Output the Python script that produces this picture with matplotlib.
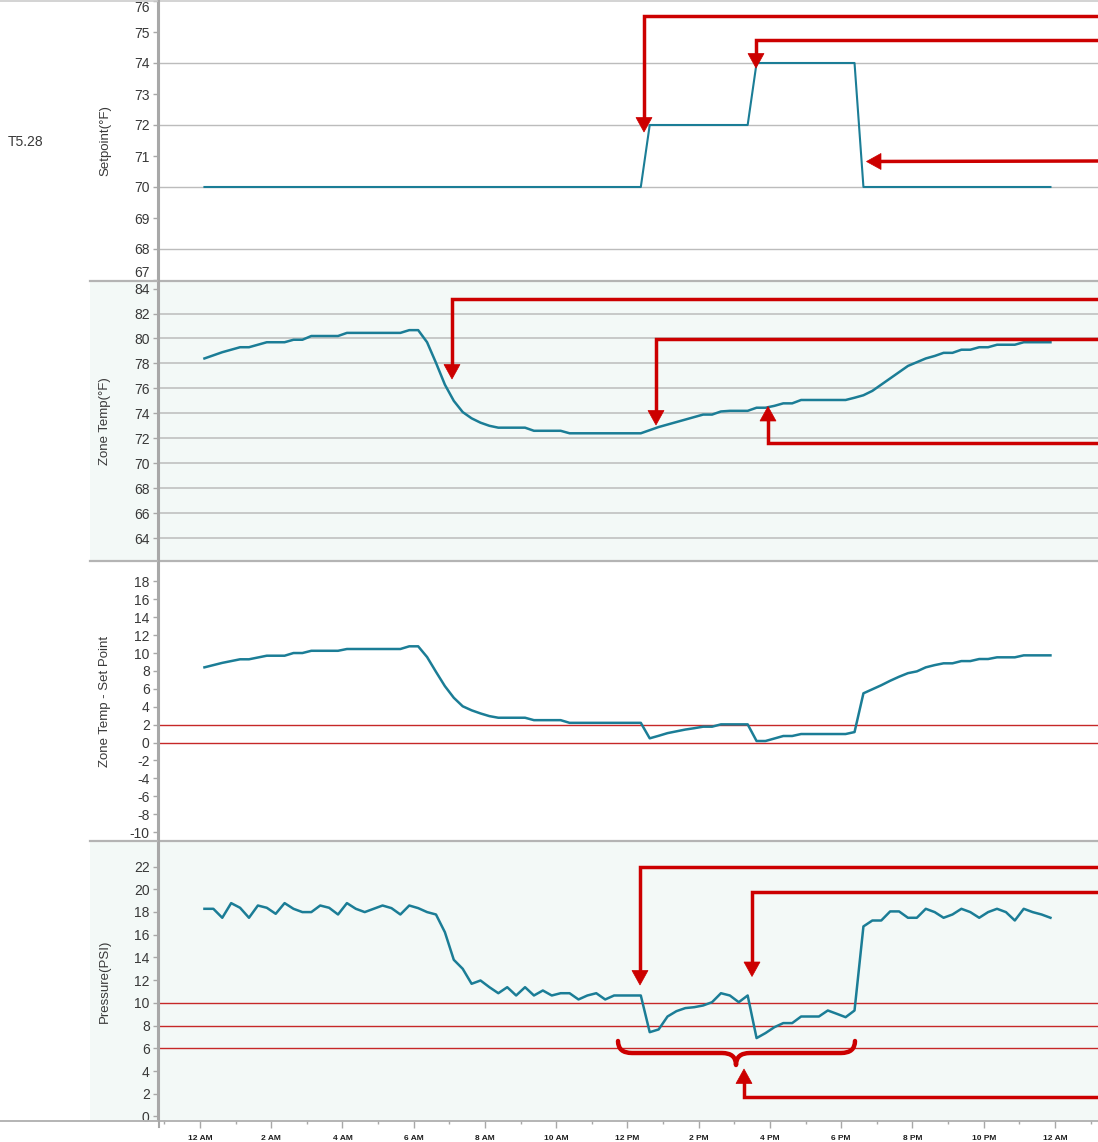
import numpy as np
import matplotlib
matplotlib.use("Agg")
import matplotlib.pyplot as plt
from matplotlib import font_manager
from matplotlib.patches import Rectangle, Polygon, PathPatch
from matplotlib.path import Path
from matplotlib.lines import Line2D

# ---- data (15 minute log of one zone) ----
n_samples = 96
hours = 0.125 + 0.25 * np.arange(n_samples)

setpoint = [70] * 50 + [72] * 12 + [74] * 12 + [70] * 22

zone_temp = [
    78.4, 78.65, 78.9, 79.1, 79.3, 79.3, 79.5, 79.7, 79.7, 79.7, 79.9, 79.9,
    80.2, 80.2, 80.2, 80.2, 80.45, 80.45, 80.45, 80.45, 80.45, 80.45, 80.45, 80.67,
    80.67, 79.7, 78.05, 76.3, 75.0, 74.1, 73.6, 73.25, 73.0, 72.85, 72.85, 72.85,
    72.85, 72.6, 72.6, 72.6, 72.6, 72.4, 72.4, 72.4, 72.4, 72.4, 72.4, 72.4,
    72.4, 72.4, 72.65, 72.9, 73.1, 73.3, 73.5, 73.7, 73.9, 73.9, 74.15, 74.2,
    74.2, 74.2, 74.45, 74.45, 74.6, 74.8, 74.8, 75.07, 75.07, 75.07, 75.07, 75.07,
    75.07, 75.25, 75.45, 75.8, 76.3, 76.8, 77.3, 77.8, 78.1, 78.4, 78.6, 78.85,
    78.85, 79.1, 79.1, 79.3, 79.3, 79.5, 79.5, 79.5, 79.7, 79.7, 79.7, 79.7,
]

temp_minus_sp = [
    8.4, 8.65, 8.9, 9.1, 9.3, 9.3, 9.5, 9.7, 9.7, 9.7, 10.0, 10.0,
    10.25, 10.25, 10.25, 10.25, 10.45, 10.45, 10.45, 10.45, 10.45, 10.45, 10.45, 10.75,
    10.75, 9.55, 7.9, 6.3, 5.0, 4.05, 3.6, 3.25, 2.95, 2.77, 2.77, 2.77,
    2.77, 2.5, 2.5, 2.5, 2.5, 2.2, 2.2, 2.2, 2.2, 2.2, 2.2, 2.2,
    2.2, 2.2, 0.47, 0.75, 1.05, 1.25, 1.45, 1.6, 1.77, 1.77, 2.03, 2.03,
    2.03, 2.03, 0.17, 0.17, 0.45, 0.73, 0.73, 0.95, 0.95, 0.95, 0.95, 0.95,
    0.95, 1.17, 5.5, 5.95, 6.4, 6.9, 7.35, 7.75, 7.95, 8.4, 8.65, 8.85,
    8.85, 9.1, 9.1, 9.33, 9.33, 9.52, 9.52, 9.52, 9.74, 9.74, 9.74, 9.74,
]

pressure = [
    18.28, 18.28, 17.49, 18.78, 18.37, 17.49, 18.57, 18.37, 17.84, 18.78, 18.28, 17.99,
    17.99, 18.57, 18.37, 17.78, 18.78, 18.28, 17.99, 18.28, 18.57, 18.34, 17.78, 18.57,
    18.34, 17.99, 17.78, 16.22, 13.79, 13.0, 11.68, 11.97, 11.38, 10.85, 11.38, 10.65,
    11.38, 10.65, 11.09, 10.65, 10.85, 10.85, 10.3, 10.65, 10.85, 10.3, 10.65, 10.65,
    10.65, 10.65, 7.42, 7.66, 8.8, 9.27, 9.54, 9.62, 9.77, 10.06, 10.85, 10.65,
    10.06, 10.65, 6.9, 7.34, 7.86, 8.22, 8.22, 8.8, 8.8, 8.8, 9.33, 9.04,
    8.74, 9.33, 16.73, 17.25, 17.25, 18.05, 18.05, 17.49, 17.49, 18.28, 17.99, 17.49,
    17.78, 18.28, 17.99, 17.49, 17.99, 18.28, 17.99, 17.25, 18.28, 17.99, 17.78, 17.49,
]

zone_name = "T5.28"
x_tick_hours = list(range(0, 25, 2))
x_tick_labels = ["12 AM", "2 AM", "4 AM", "6 AM", "8 AM", "10 AM", "12 PM",
                 "2 PM", "4 PM", "6 PM", "8 PM", "10 PM", "12 AM"]
diff_limits = [0, 2]
pressure_limits = [6, 8, 10]

# ---- style ----
W, H = 1098, 1142
LINE = "#1b7d96"
MINT = "#f3f9f7"
GRID = "#bcbcbc"
SPINE = "#a8a8a8"
RED = "#cc0000"
TXT = "#383838"

plt.rcParams["font.family"] = ["Liberation Sans", "DejaVu Sans"]

try:
    font_manager.findfont(font_manager.FontProperties(family="Liberation Sans Narrow"),
                          fallback_to_default=False)
    xfont = dict(family="Liberation Sans Narrow", size=7, weight="bold")
except Exception:
    xfont = dict(family="Liberation Sans", size=6, weight="bold")

fig = plt.figure(figsize=(W / 100, H / 100), dpi=100)


def px_axes(x0, y0, x1, y1):
    return fig.add_axes([x0 / W, 1 - y1 / H, (x1 - x0) / W, (y1 - y0) / H])


# panel backgrounds (reach under the y label column)
for top, bot in [(282, 560), (842, 1120)]:
    fig.patches.append(Rectangle((90 / W, 1 - bot / H), (W - 90) / W, (bot - top) / H,
                                 transform=fig.transFigure, facecolor=MINT,
                                 edgecolor="none", zorder=-5))

panels = [
    (1, 280, (67, 76), list(range(67, 77)), "Setpoint(\u00b0F)"),
    (282, 560, (62.24, 84.53), list(range(64, 85, 2)), "Zone Temp(\u00b0F)"),
    (562, 840, (-10.89, 20.17), list(range(-10, 19, 2)), "Zone Temp - Set Point"),
    (842, 1120, (-0.31, 24.16), list(range(0, 23, 2)), "Pressure(PSI)"),
]
series = [setpoint, zone_temp, temp_minus_sp, pressure]

axes = []
for (top, bot, ylim, yticks, ylabel), values in zip(panels, series):
    ax = px_axes(158, top, 1098, bot)
    ax.set_zorder(1)
    ax.set_facecolor("none")
    ax.set_xlim(-1.179, 25.21)
    ax.set_ylim(*ylim)
    for side in ["top", "right", "bottom"]:
        ax.spines[side].set_visible(False)
    ax.spines["left"].set_color(SPINE)
    ax.spines["left"].set_linewidth(1.5)
    ax.set_yticks(yticks)
    ax.set_yticklabels([str(t) for t in yticks])
    ax.tick_params(axis="y", direction="out", length=3.5, width=1, color=SPINE,
                   pad=2.5, labelsize=10, labelcolor=TXT)
    ax.set_xticks([])
    ax.set_ylabel(ylabel, fontsize=9.5, color=TXT)
    ax.yaxis.set_label_coords(-47 / 940, 0.5)
    ax.plot(hours, values, color=LINE, lw=1.8 if top > 1 else 1.5, zorder=3,
            solid_joinstyle="round")
    axes.append(ax)

ax1, ax2, ax3, ax4 = axes

# grid lines
for v in [68, 70, 72, 74]:
    ax1.axhline(v, color=GRID, lw=1.0, zorder=1)
for v in range(64, 84, 2):
    ax2.axhline(v, color=GRID, lw=1.1, zorder=1)
for v in diff_limits:
    ax3.axhline(v, color="#c62828", lw=1.0, zorder=2)
for v in pressure_limits:
    ax4.axhline(v, color="#c62828", lw=1.0, zorder=2)

# end labels of the setpoint axis sit inside the panel
t_first, t_last = ax1.yaxis.get_major_ticks()[0], ax1.yaxis.get_major_ticks()[-1]
t_first.label1.set_va("bottom")
t_last.label1.set_va("top")

# time axis
ax4.set_xticks(x_tick_hours)
ax4.set_xticklabels(x_tick_labels, **xfont, color="#1e1e1e")
ax4.set_xticks(range(-1, 26), minor=True)
ax4.tick_params(axis="x", which="major", direction="out", length=5.5, width=1,
                color=SPINE, pad=5)
ax4.tick_params(axis="x", which="minor", direction="out", length=3, width=1,
                color=SPINE)

fig.text(8 / W, 1 - 142 / H, zone_name, fontsize=10, color=TXT, va="center", ha="left")

# ---- overlay for separators and callouts, in pixel coordinates ----
ov = fig.add_axes([0, 0, 1, 1], zorder=10)
ov.set_xlim(0, W)
ov.set_ylim(H, 0)
ov.axis("off")
ov.patch.set_visible(False)

ov.add_line(Line2D([0, W], [0.5, 0.5], color="#cccccc", lw=1.2))
for y in [281, 561, 841]:
    ov.add_line(Line2D([90, W], [y, y], color="#b4b4b4", lw=1.6))
ov.add_line(Line2D([0, W], [1121, 1121], color="#b4b4b4", lw=1.4))
ov.add_line(Line2D([158.5, 158.5], [0, 1127], color=SPINE, lw=1.5))

callouts = [
    # path points (last point is the arrow tip)
    [(1098, 16), (644, 16), (644, 132)],
    [(1098, 39.5), (756, 39.5), (756, 68)],
    [(1098, 161), (866.5, 161.5)],
    [(1098, 299), (452, 299), (452, 379)],
    [(1098, 339), (656, 339), (656, 425)],
    [(1098, 443), (768, 443), (768, 406.5)],
    [(1098, 867), (640, 867), (640, 985)],
    [(1098, 891.5), (752, 891.5), (752, 976.5)],
    [(1098, 1096.5), (744, 1096.5), (744, 1069)],
]
head_len, head_half = 14.5, 8
for pts in callouts:
    (xa, ya), (xb, yb) = pts[-2], pts[-1]
    d = np.array([xb - xa, yb - ya], dtype=float)
    d /= np.hypot(*d)
    perp = np.array([-d[1], d[0]])
    tip = np.array([xb, yb])
    base = tip - d * head_len
    line_pts = pts[:-1] + [tuple(base + d * 1.5)]
    xs, ys = zip(*line_pts)
    ov.add_line(Line2D(xs, ys, color=RED, lw=2.5, solid_joinstyle="miter",
                       solid_capstyle="butt"))
    ov.add_patch(Polygon([tip, base + perp * head_half, base - perp * head_half],
                         closed=True, facecolor=RED, edgecolor=RED, lw=0.5))

# curly brace under the two setback periods
brace = Path(
    [(618, 1041), (618, 1053), (632, 1053), (722, 1053), (736, 1053), (736, 1065),
     (736, 1053), (750, 1053), (841, 1053), (855, 1053), (855, 1041)],
    [Path.MOVETO, Path.CURVE3, Path.CURVE3, Path.LINETO, Path.CURVE3, Path.CURVE3,
     Path.CURVE3, Path.CURVE3, Path.LINETO, Path.CURVE3, Path.CURVE3],
)
ov.add_patch(PathPatch(brace, facecolor="none", edgecolor=RED, lw=3.2,
                       capstyle="round", joinstyle="round"))

fig.savefig("out.png", dpi=100)
